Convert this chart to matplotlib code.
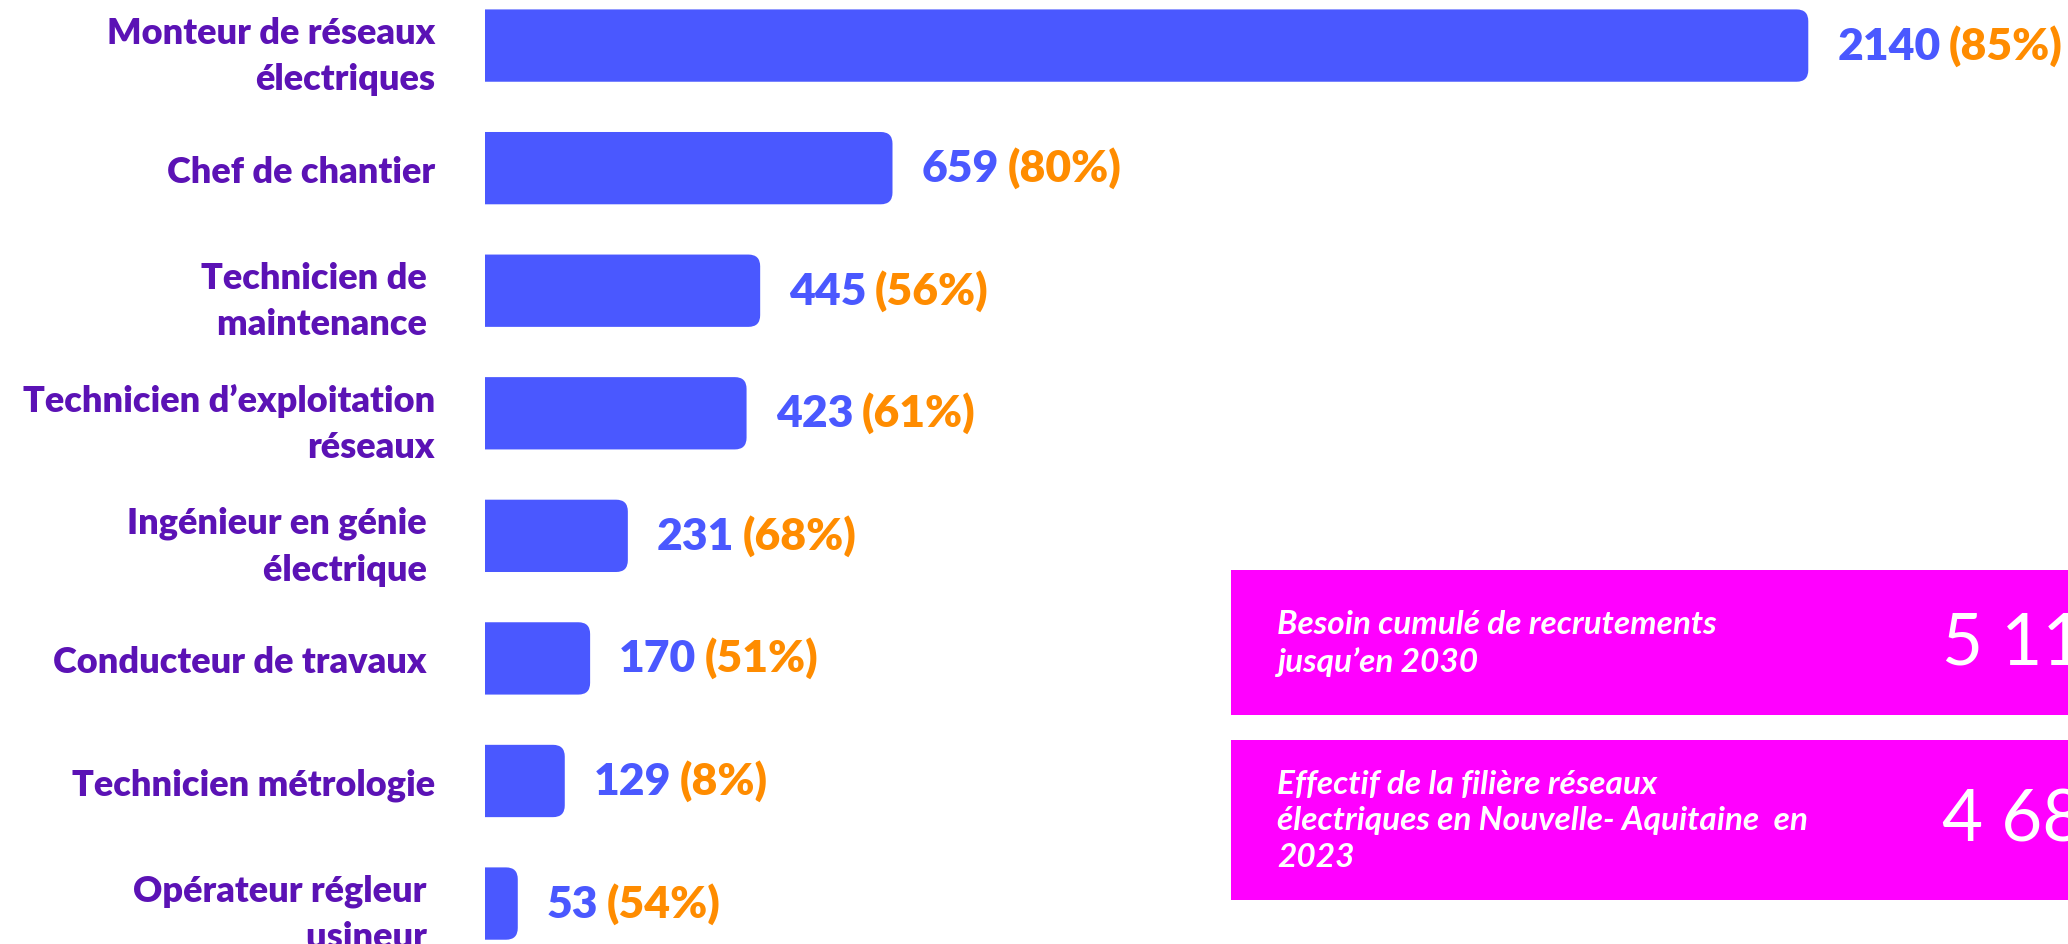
import numpy as np
import matplotlib
matplotlib.use("Agg")
import matplotlib.pyplot as plt
from matplotlib.patches import FancyBboxPatch, Rectangle

plt.rcParams['font.family'] = ['Lato', 'DejaVu Sans']

metiers = [
    "Monteur de réseaux\nélectriques",
    "Chef de chantier",
    "Technicien de \nmaintenance ",
    "Technicien d’exploitation\nréseaux",
    "Ingénieur en génie \nélectrique ",
    "Conducteur de travaux ",
    "Technicien métrologie",
    "Opérateur régleur \nusineur ",
]
besoins = [2140, 659, 445, 423, 231, 170, 129, 53]
parts = [85, 80, 56, 61, 68, 51, 8, 54]

resume_textes = [
    "Besoin cumulé de recrutements\njusqu’en 2030",
    "Effectif de la filière réseaux\nélectriques en Nouvelle- Aquitaine  en\n2023",
]
resume_valeurs = ["5 11", "4 68"]

bleu = '#4a58ff'
violet = '#5b12b5'
orange = '#ff8c00'
magenta = '#ff00ff'

fig = plt.figure(figsize=(20.68, 9.45), dpi=100)
ax = fig.add_axes([485 / 2068, 0, 1 - 485 / 2068, 1])
ax.set_xlim(0, 2560)
ax.set_ylim(7.33, -0.38)

y = np.arange(len(besoins))
h = 0.59
r = 19
asp = 0.00505

# bars start left of the axes so the clip gives a square left end
for yi, v in zip(y, besoins):
    p = FancyBboxPatch((-3 * r, yi - h / 2), v + 3 * r, h,
                       boxstyle="round,pad=0,rounding_size=%g" % r,
                       mutation_aspect=asp, fc=bleu, ec='none')
    ax.add_patch(p)

for yi, v, pc in zip(y, besoins, parts):
    t = ax.annotate(str(v), xy=(v, yi), xytext=(21, 0), textcoords='offset points',
                    ha='left', va='center', fontsize=32, fontweight='heavy', color=bleu)
    ax.annotate("(%d%%)" % pc, xy=(1, 0), xycoords=t, xytext=(6, 0),
                textcoords='offset points', ha='left', va='bottom',
                fontsize=32, fontweight='heavy', color=orange)

ax.set_yticks(y)
ax.set_yticklabels(metiers, fontsize=26, fontweight='heavy', color=violet,
                   ha='right', multialignment='right', linespacing=1.5)
ax.tick_params(axis='y', length=0, pad=36)
ax.set_xticks([])
for s in ax.spines.values():
    s.set_visible(False)

boites = [(0.2423, 0.1534), (0.0466, 0.1693)]
for (b, hh), txt, val in zip(boites, resume_textes, resume_valeurs):
    fig.add_artist(Rectangle((0.5953, b), 0.41, hh, transform=fig.transFigure,
                             fc=magenta, ec='none'))
    fig.text(0.6175, b + hh / 2, txt, ha='left', va='center', fontsize=24,
             fontweight='bold', fontstyle='italic', color='white', linespacing=1.3)
    fig.text(0.939, b + hh / 2, val, ha='left', va='center', fontsize=51,
             color='white')

fig.savefig('out.png', dpi=100)
